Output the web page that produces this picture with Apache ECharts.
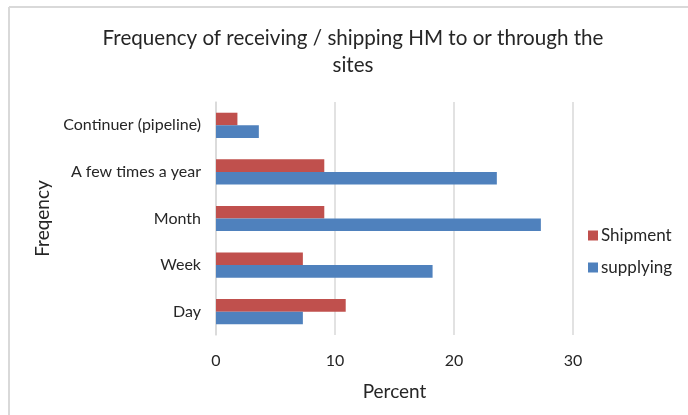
<!DOCTYPE html>
<html>
<head>
<meta charset="utf-8">
<title>Frequency of receiving / shipping HM</title>
<script src="https://cdn.jsdelivr.net/npm/echarts@6/dist/echarts.min.js"></script>
<style>
    html, body { margin: 0; padding: 0; background: #fff; }
    #chart { width: 688px; height: 415px; }
</style>
</head>
<body>
<div id="chart"></div>
<script>
// categories from bottom to top, as the axis draws them
const categories = ["Day", "Week", "Month", "A few times a year", "Continuer (pipeline)"];
const shipment = [10.9, 7.3, 9.1, 9.1, 1.8];
const supplying = [7.3, 18.2, 27.3, 23.6, 3.6];
const xTicks = [0, 10, 20, 30];

const FONT = "Lato, 'Open Sans', sans-serif";
const TEXT = "#262626";

const chart = echarts.init(document.getElementById("chart"));

chart.setOption({
    animation: false,
    textStyle: { fontFamily: FONT },
    title: {
        text: "Frequency of receiving / shipping HM to or through the\nsites",
        left: 348,
        textAlign: "center",
        top: 20,
        textStyle: { fontSize: 20.6, fontWeight: "normal", color: TEXT, lineHeight: 27, fontFamily: FONT }
    },
    graphic: [
        { type: "line", shape: { x1: 9, y1: 7, x2: 688, y2: 7 }, style: { stroke: "#d9d9d9", lineWidth: 2 } },
        { type: "line", shape: { x1: 9, y1: 7, x2: 9, y2: 415 }, style: { stroke: "#d9d9d9", lineWidth: 2 } }
    ],
    legend: {
        orient: "vertical",
        left: 583,
        top: 222,
        itemGap: 15,
        itemWidth: 10,
        itemHeight: 10,
        icon: "rect",
        data: ["Shipment", "supplying"],
        textStyle: { fontSize: 17, color: TEXT, fontFamily: FONT, padding: [0, 0, 0, -2] }
    },
    grid: { left: 216, right: 115, top: 102, bottom: 80 },
    xAxis: {
        type: "value",
        min: xTicks[0],
        max: xTicks[xTicks.length - 1],
        interval: 10,
        name: "Percent",
        nameLocation: "middle",
        nameGap: 47,
        nameTextStyle: { fontSize: 19, color: TEXT, fontFamily: FONT },
        axisLine: { show: false },
        axisTick: { show: false },
        axisLabel: { fontSize: 16, color: TEXT, margin: 18, fontFamily: FONT },
        splitLine: { lineStyle: { color: "#d9d9d9", width: 1.5 } }
    },
    yAxis: {
        type: "category",
        data: categories,
        name: "Freqency",
        nameLocation: "middle",
        nameRotate: 90,
        nameGap: 160,
        nameTextStyle: { fontSize: 19, color: TEXT, fontFamily: FONT },
        axisLine: { show: true, lineStyle: { color: "#d9d9d9", width: 1.5 } },
        axisTick: { show: false },
        axisLabel: { fontSize: 16, color: TEXT, margin: 15, fontFamily: FONT }
    },
    series: [
        {
            name: "Shipment",
            type: "bar",
            data: shipment,
            barGap: "0%",
            barCategoryGap: "46%",
            itemStyle: { color: "#c0504d" }
        },
        {
            name: "supplying",
            type: "bar",
            data: supplying,
            barGap: "0%",
            barCategoryGap: "46%",
            itemStyle: { color: "#4f81bd" }
        }
    ]
});
</script>
</body>
</html>
